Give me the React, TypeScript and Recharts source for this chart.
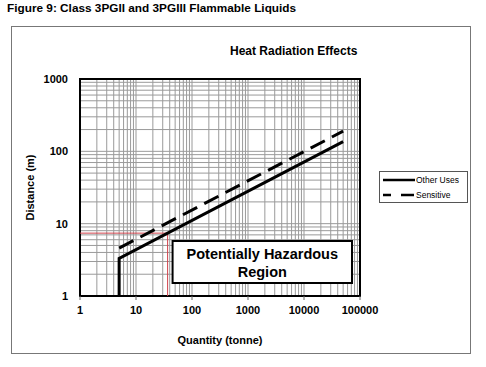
import React from "react";
import {
  ComposedChart,
  Line,
  XAxis,
  YAxis,
  CartesianGrid,
  ReferenceLine,
  ReferenceArea,
  Legend,
} from "recharts";

const xTicks = [1, 10, 100, 1000, 10000, 100000];
const yTicks = [1, 10, 100, 1000];
const otherUses = [
  { x: 5, y: 1 },
  { x: 5, y: 3.3 },
  { x: 50000, y: 136 },
];
const sensitive = [
  { x: 5, y: 4.6 },
  { x: 50000, y: 190 },
];
const redH = [
  { x: 1, y: 7.4 },
  { x: 36.7, y: 7.4 },
];
const redV = [
  { x: 36.7, y: 1 },
  { x: 36.7, y: 7.4 },
];
const hazardBox = { x1: 45, x2: 72000, y1: 1.51, y2: 5.76 };
const hazardText = ["Potentially Hazardous", "Region"];

const minorX: number[] = [];
for (let d = 0; d < 5; d++) for (let k = 1; k <= 9; k++) minorX.push(k * Math.pow(10, d));
minorX.push(100000);
const minorY: number[] = [];
for (let d = 0; d < 3; d++) for (let k = 1; k <= 9; k++) minorY.push(k * Math.pow(10, d));
minorY.push(1000);

const FONT = "Liberation Sans, Arial, sans-serif";

const HazardLabel = (props: any) => {
  const vb = props.viewBox || {};
  const cx = vb.x + vb.width / 2;
  const cy = vb.y + vb.height / 2;
  return (
    <g>
      <text x={cx} y={cy - 3} textAnchor="middle" fontFamily={FONT} fontWeight="bold" fontSize={14.5} fill="#000">
        {hazardText[0]}
      </text>
      <text x={cx} y={cy + 15} textAnchor="middle" fontFamily={FONT} fontWeight="bold" fontSize={14.5} fill="#000">
        {hazardText[1]}
      </text>
    </g>
  );
};

const LegendBox = () => (
  <div
    style={{
      width: 87,
      height: 30,
      border: "1px solid #555",
      background: "#fff",
      boxSizing: "content-box",
    }}
  >
    <svg width={87} height={30} style={{ display: "block" }}>
      <line x1={3} y1={8} x2={35} y2={8} stroke="#000" strokeWidth={2.5} />
      <text x={36} y={11} fontFamily={FONT} fontSize={8.5}>Other Uses</text>
      <line x1={3} y1={23} x2={35} y2={23} stroke="#000" strokeWidth={2.5} strokeDasharray="8 10 5 0" />
      <text x={36} y={26} fontFamily={FONT} fontSize={8.5}>Sensitive</text>
    </svg>
  </div>
);

const scaleOf = (axis: any) => {
  const s = axis && axis.scale;
  return typeof s === "function" ? s : s && s.map ? (v: number) => s.map(v) : null;
};

const vGen = (props: any) => {
  const sc = scaleOf(props.xAxis);
  if (!sc) return [];
  return minorX.map((v) => sc(v));
};
const hGen = (props: any) => {
  const sc = scaleOf(props.yAxis);
  if (!sc) return [];
  return minorY.map((v) => sc(v));
};

export default function App() {
  return (
    <div style={{ position: "absolute", left: 0, top: 0, width: 486, height: 367, background: "#fff" }}>
      <div
        style={{
          position: "absolute",
          left: 7,
          top: 1,
          fontFamily: FONT,
          fontWeight: "bold",
          fontSize: 11.8,
          color: "#000",
          whiteSpace: "nowrap",
        }}
      >
        Figure 9: Class 3PGII and 3PGIII Flammable Liquids
      </div>
      <div
        style={{
          position: "absolute",
          left: 11,
          top: 26,
          width: 458,
          height: 326,
          border: "1px solid #777",
        }}
      />
      <div
        style={{
          position: "absolute",
          left: 230,
          top: 44,
          fontFamily: FONT,
          fontWeight: "bold",
          fontSize: 12,
          color: "#000",
          whiteSpace: "nowrap",
        }}
      >
        Heat Radiation Effects
      </div>
      <div style={{ position: "absolute", left: 0, top: 0 }}>
        <ComposedChart
          width={486}
          height={367}
          margin={{ top: 79, right: 126, bottom: 41, left: 20 }}
        >
          <CartesianGrid
            stroke="#9a9a9a"
            strokeWidth={1}
            verticalCoordinatesGenerator={vGen}
            horizontalCoordinatesGenerator={hGen}
          />
          <XAxis
            type="number"
            dataKey="x"
            scale="log"
            domain={[1, 100000]}
            ticks={xTicks}
            allowDataOverflow
            axisLine={false}
            tickLine={{ stroke: "#666" }}
            tickSize={4}
            tickMargin={6}
            height={30}
            tick={{ fontFamily: FONT, fontWeight: "bold", fontSize: 11, fill: "#000" }}
            label={{
              value: "Quantity (tonne)",
              position: "insideBottom",
              offset: -18,
              style: { fontFamily: FONT, fontWeight: "bold", fontSize: 11, fill: "#000" },
            }}
          />
          <YAxis
            type="number"
            dataKey="y"
            scale="log"
            domain={[1, 1000]}
            ticks={yTicks}
            allowDataOverflow
            axisLine={false}
            tickLine={false}
            tickSize={0}
            tickMargin={12}
            width={60}
            tick={{ fontFamily: FONT, fontWeight: "bold", fontSize: 11, fill: "#000" }}
            label={{
              value: "Distance (m)",
              angle: -90,
              position: "insideLeft",
              offset: 0,
              dx: 10,
              style: { fontFamily: FONT, fontWeight: "bold", fontSize: 11, fill: "#000", textAnchor: "middle" },
            }}
          />
          <ReferenceLine segment={redH} stroke="#d0404a" strokeWidth={1} />
          <ReferenceLine segment={redV} stroke="#d0404a" strokeWidth={1} />
          <ReferenceArea
            x1={hazardBox.x1}
            x2={hazardBox.x2}
            y1={hazardBox.y1}
            y2={hazardBox.y2}
            fill="#fff"
            fillOpacity={1}
            stroke="#000"
            strokeWidth={2}
            label={<HazardLabel />}
          />
          <Line
            data={otherUses}
            dataKey="y"
            name="Other Uses"
            type="linear"
            stroke="#000"
            strokeWidth={3}
            dot={false}
            isAnimationActive={false}
          />
          <Line
            data={sensitive}
            dataKey="y"
            name="Sensitive"
            type="linear"
            stroke="#000"
            strokeWidth={3}
            strokeDasharray="16 8"
            dot={false}
            isAnimationActive={false}
          />
          <ReferenceArea
            x1={1}
            x2={100000}
            y1={1}
            y2={1000}
            fill="none"
            fillOpacity={0}
            stroke="#000"
            strokeWidth={2}
          />
          <Legend
            layout="horizontal"
            align="center"
            verticalAlign="middle"
            content={<LegendBox />}
            wrapperStyle={{ position: "absolute", left: 379, top: 171, width: 89, height: 32 }}
          />
        </ComposedChart>
      </div>
    </div>
  );
}
